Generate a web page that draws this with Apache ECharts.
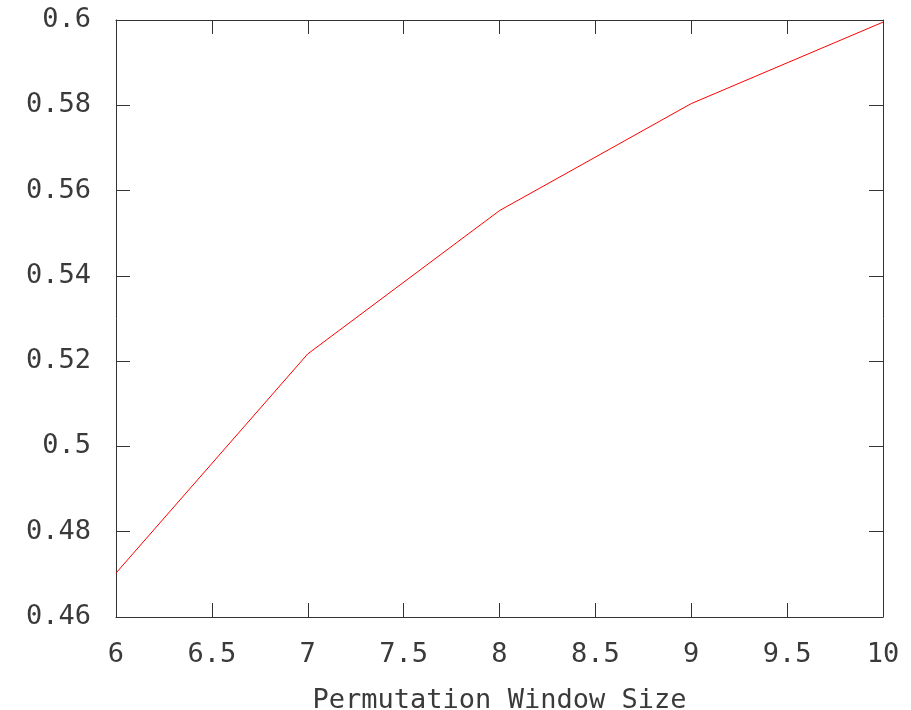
<!DOCTYPE html>
<html>
<head>
<meta charset="utf-8">
<script src="https://cdn.jsdelivr.net/npm/echarts@6/dist/echarts.min.js"></script>
<style>
html,body{margin:0;padding:0;background:#fff;}
#chart{width:911px;height:710px;}
</style>
</head>
<body>
<div id="chart"></div>
<script>
const windowSizes = [6, 7, 8, 9, 10];
const scores = [0.4703, 0.5217, 0.5553, 0.5804, 0.5995];
const xTicks = [6, 6.5, 7, 7.5, 8, 8.5, 9, 9.5, 10];
const yTicks = [0.46, 0.48, 0.5, 0.52, 0.54, 0.56, 0.58, 0.6];
const xTitle = 'Permutation Window Size';

const FONT = '"DejaVu Sans Mono", monospace';
const TXT = '#3a3a3a';
const AX = '#333333';
const chart = echarts.init(document.getElementById('chart'), null, {renderer: 'canvas'});
const xCommon = {
  type: 'value', min: 6, max: 10, interval: 0.5,
  axisLine: {show: true, onZero: false, lineStyle: {color: AX, width: 1}},
  axisTick: {show: true, inside: true, length: 14, lineStyle: {color: AX, width: 1}},
  splitLine: {show: false}
};
const yCommon = {
  type: 'value', min: 0.46, max: 0.6, interval: 0.02,
  axisLine: {show: true, onZero: false, lineStyle: {color: AX, width: 1}},
  axisTick: {show: true, inside: true, length: 14, lineStyle: {color: AX, width: 1}},
  splitLine: {show: false}
};
chart.setOption({
  animation: false,
  backgroundColor: '#ffffff',
  grid: {left: 116, right: 28, top: 20, bottom: 93, containLabel: false, outerBoundsMode: 'none'},
  xAxis: [
    Object.assign({}, xCommon, {
      position: 'bottom',
      name: xTitle, nameLocation: 'middle', nameGap: 70,
      nameTextStyle: {fontFamily: FONT, fontSize: 27, color: TXT},
      axisLabel: {show: true, margin: 24, fontFamily: FONT, fontSize: 27, color: TXT,
        formatter: v => xTicks.includes(v) ? String(v) : ''}
    }),
    Object.assign({}, xCommon, {position: 'top', axisLabel: {show: false}})
  ],
  yAxis: [
    Object.assign({}, yCommon, {
      position: 'left',
      axisLabel: {show: true, margin: 25, fontFamily: FONT, fontSize: 27, color: TXT,
        padding: [4, 0, 0, 0],
        formatter: v => {
          const t = yTicks.find(k => Math.abs(k - v) < 1e-9);
          return t === undefined ? '' : String(t);
        }}
    }),
    Object.assign({}, yCommon, {position: 'right', axisLabel: {show: false}})
  ],
  series: [{
    type: 'line',
    data: windowSizes.map((x, i) => [x, scores[i]]),
    showSymbol: false,
    symbol: 'none',
    lineStyle: {color: '#ff0000', width: 1},
    itemStyle: {color: '#ff0000'}
  }]
});
</script>
</body>
</html>
